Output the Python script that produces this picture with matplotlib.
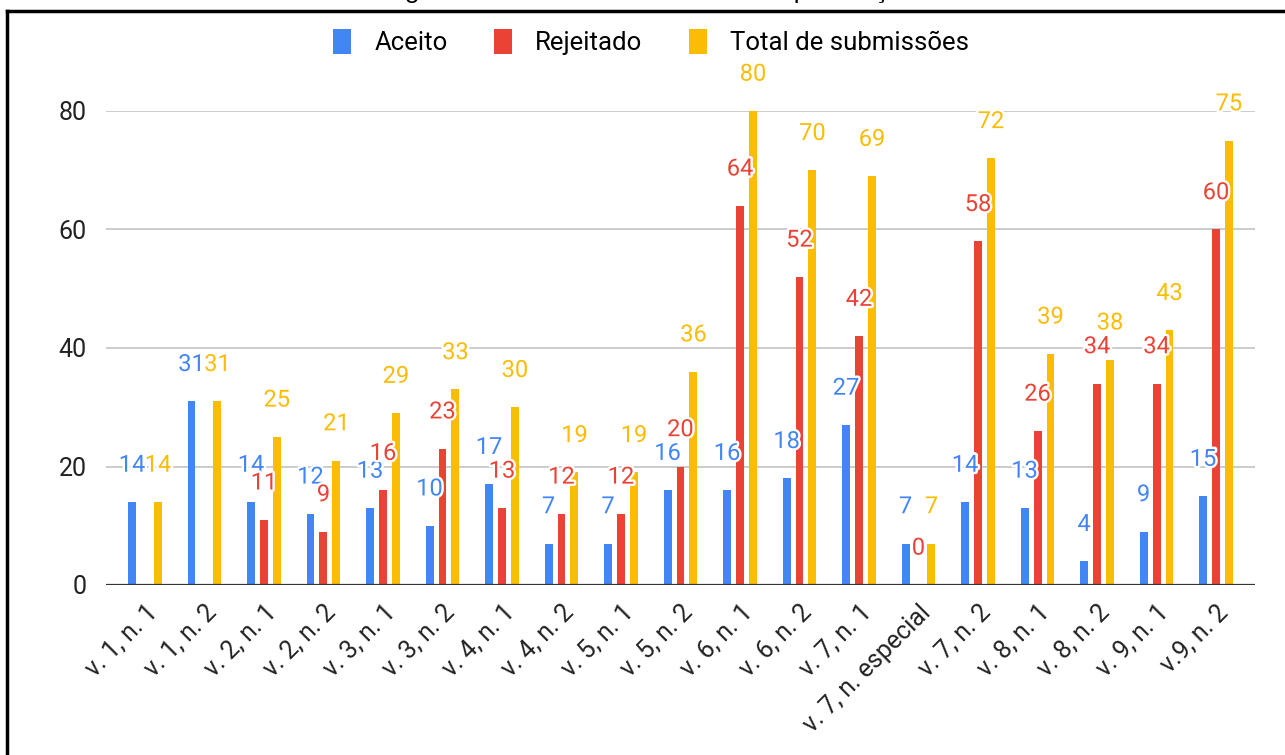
import numpy as np
import matplotlib
matplotlib.use("Agg")
from matplotlib import pyplot as plt
from matplotlib import patheffects as pe
from matplotlib.lines import Line2D

plt.rcParams['font.family'] = ['Roboto', 'DejaVu Sans']

# dados
edicoes = ["v. 1, n. 1", "v. 1, n. 2", "v. 2, n. 1", "v. 2, n. 2", "v. 3, n. 1",
           "v. 3, n. 2", "v. 4, n. 1", "v. 4, n. 2", "v. 5, n. 1", "v. 5, n. 2",
           "v. 6, n. 1", "v. 6, n. 2", "v. 7, n. 1", "v. 7, n. especial",
           "v. 7, n. 2", "v. 8, n. 1", "v. 8, n. 2", "v. 9, n. 1", "v.9, n. 2"]
aceito = [14, 31, 14, 12, 13, 10, 17, 7, 7, 16, 16, 18, 27, 7, 14, 13, 4, 9, 15]
rejeitado = [np.nan, np.nan, 11, 9, 16, 23, 13, 12, 12, 20, 64, 52, 42, 0, 58, 26, 34, 34, 60]
total = [14, 31, 25, 21, 29, 33, 30, 19, 19, 36, 80, 70, 69, 7, 72, 39, 38, 43, 75]

series = [("Aceito", aceito, "#4285F4"),
          ("Rejeitado", rejeitado, "#EA4335"),
          ("Total de submissões", total, "#FBBC04")]

fig = plt.figure(figsize=(12.85, 7.55), dpi=100)
ax = fig.add_axes([106/1285, 1-585/755, (1255-106)/1285, (585-111)/755])

x = np.arange(len(edicoes))
w = 0.134
passo = 0.218
halo = [pe.withStroke(linewidth=3.5, foreground='white')]

for i, (nome, vals, cor) in enumerate(series):
    pos = x + (i - 1) * passo
    ax.bar(pos, vals, width=w, color=cor, label=nome, zorder=3)
    for xp, v in zip(pos, vals):
        if np.isnan(v):
            continue
        ax.annotate(f"{int(v)}", (xp, v), xytext=(0, 26.5), textcoords='offset points',
                    ha='center', va='center', fontsize=17, color=cor,
                    path_effects=halo, zorder=5, annotation_clip=False)

ax.set_xlim(-0.655, 18.655)
ax.set_ylim(0, 80)
ax.set_yticks([0, 20, 40, 60, 80])
ax.grid(axis='y', color='#cccccc', linewidth=1.4, zorder=0)
ax.axhline(0, color='#333333', linewidth=1.6, zorder=4)
for s in ax.spines.values():
    s.set_visible(False)
ax.tick_params(axis='both', length=0, labelsize=18, colors='#222222')
ax.tick_params(axis='y', pad=14)
ax.set_xticks(x)
ax.set_xticklabels(edicoes, rotation=45, ha='right', va='top',
                   rotation_mode='anchor', fontsize=18)
ax.tick_params(axis='x', pad=11)

leg = fig.legend(loc='center', bbox_to_anchor=(651/1285, 1-42/755), ncol=3,
                 frameon=False, fontsize=18.5, handlelength=0.7, handleheight=1.1,
                 handletextpad=0.9, columnspacing=1.8)

# titulo cortado no topo (só as descendentes aparecem)
fig.text(650/1285, 1+2/755, "Figura 1 – Número de submissões por edição",
         ha='center', va='baseline', fontsize=19, color='black',
         family=['Liberation Sans', 'DejaVu Sans'])

# moldura (só topo e esquerda visiveis)
fig.add_artist(Line2D([7/1285, 1], [1-11/755, 1-11/755], color='black', lw=2.5))
fig.add_artist(Line2D([7/1285, 7/1285], [0, 1-11/755], color='black', lw=2.5))

plt.savefig('out.png', dpi=100)
